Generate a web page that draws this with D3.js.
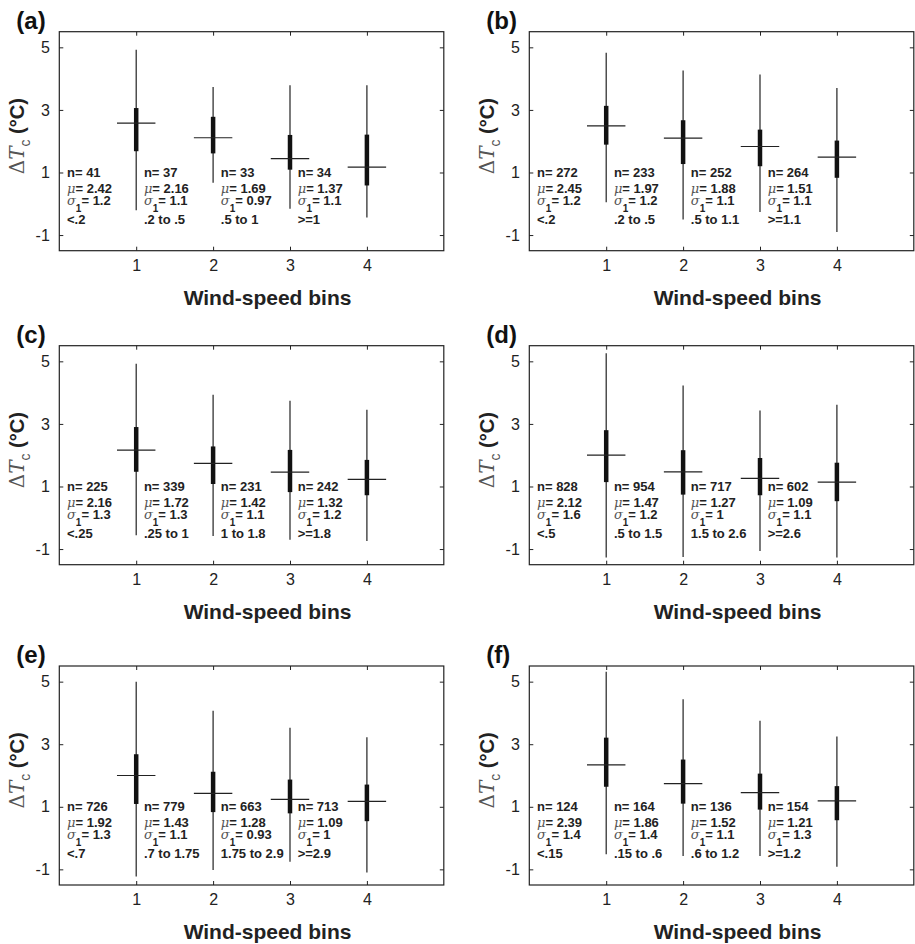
<!DOCTYPE html>
<html lang="en">
<head>
<meta charset="utf-8">
<title>Wind-speed bins</title>
<script src="https://cdn.jsdelivr.net/npm/d3@7"></script>
<style>
  body { margin: 0; background: #fff; }
  svg { font-family: "Liberation Sans", Arial, Helvetica, sans-serif; }
  .tick text { font-size: 16px; fill: #222; }
  .tick line { stroke: #222; }
  .frame { fill: none; stroke: #222; stroke-width: 1.2; }
  .panel-id { font-size: 24px; font-weight: bold; fill: #111; }
  .xlabel { font-size: 21px; font-weight: bold; fill: #222; }
  .note { font-size: 13px; font-weight: bold; fill: #222; }
  .math { font-family: "DejaVu Serif", serif; font-style: italic; font-weight: normal; fill: #555; }
</style>
</head>
<body>
<script>
var panelIds = ['(a)', '(b)', '(c)', '(d)', '(e)', '(f)'];
var bins = [1, 2, 3, 4];
var xTicks = [1, 2, 3, 4];
var yTicks = [-1, 1, 3, 5];

var nCounts = [[41, 37, 33, 34], [272, 233, 252, 264], [225, 339, 231, 242],
               [828, 954, 717, 602], [726, 779, 663, 713], [124, 164, 136, 154]];
var muText = [['2.42', '2.16', '1.69', '1.37'], ['2.45', '1.97', '1.88', '1.51'],
              ['2.16', '1.72', '1.42', '1.32'], ['2.12', '1.47', '1.27', '1.09'],
              ['1.92', '1.43', '1.28', '1.09'], ['2.39', '1.86', '1.52', '1.21']];
var sigmaText = [['1.2', '1.1', '0.97', '1.1'], ['1.2', '1.2', '1.1', '1.1'],
                 ['1.3', '1.3', '1.1', '1.2'], ['1.6', '1.2', '1', '1.1'],
                 ['1.3', '1.1', '0.93', '1'], ['1.4', '1.4', '1.1', '1.3']];
var rangeText = [['<.2', '.2 to .5', '.5 to 1', '>=1'], ['<.2', '.2 to .5', '.5 to 1.1', '>=1.1'],
                 ['<.25', '.25 to 1', '1 to 1.8', '>=1.8'], ['<.5', '.5 to 1.5', '1.5 to 2.6', '>=2.6'],
                 ['<.7', '.7 to 1.75', '1.75 to 2.9', '>=2.9'], ['<.15', '.15 to .6', '.6 to 1.2', '>=1.2']];

var whiskerHigh = [[4.92, 3.73, 3.79, 3.79], [4.83, 4.26, 4.13, 3.70], [4.92, 3.93, 3.74, 3.45],
                   [5.26, 4.23, 3.43, 3.61], [5.00, 4.07, 3.53, 3.22], [5.32, 4.44, 3.75, 3.25]];
var whiskerLow = [[-0.21, 0.67, -0.16, -0.44], [0.05, -0.50, -0.26, -0.90], [-0.56, -0.58, -0.70, -0.74],
                  [-1.27, -1.25, -1.06, -1.27], [-1.23, -1.02, -0.76, -1.10], [-0.52, -0.57, -0.57, -0.92]];
var boxHigh = [[3.06, 2.78, 2.20, 2.21], [3.13, 2.67, 2.37, 2.02], [2.90, 2.28, 2.17, 1.85],
               [2.80, 2.16, 1.91, 1.76], [2.68, 2.12, 1.87, 1.71], [3.21, 2.51, 2.06, 1.66]];
var boxLow = [[1.68, 1.61, 1.09, 0.585], [1.89, 1.27, 1.20, 0.83], [1.47, 1.08, 0.82, 0.72],
              [1.14, 0.74, 0.72, 0.53], [1.09, 0.83, 0.79, 0.54], [1.64, 1.10, 0.91, 0.57]];
var medians = [[2.58, 2.11, 1.44, 1.17], [2.49, 2.10, 1.83, 1.49], [2.16, 1.74, 1.46, 1.23],
               [2.00, 1.47, 1.26, 1.14], [2.00, 1.43, 1.24, 1.17], [2.34, 1.74, 1.45, 1.19]];

var width = 915, height = 944;
var colLeft = [59.3, 529.3];
var rowTop = [31.7, 345.7, 666];
var plotW = 384.5, plotH = 219;

var svg = d3.select('body').append('svg')
  .attr('width', width)
  .attr('height', height);

var x = d3.scaleLinear().domain([0, 5]).range([0, plotW]);
var y = d3.scaleLinear().domain([-1.5, 5.5]).range([plotH, 0]);

panelIds.forEach(function(id, p) {
  var left = colLeft[p % 2], top = rowTop[Math.floor(p / 2)];
  var g = svg.append('g').attr('transform', 'translate(' + left + ',' + top + ')');

  // axes, ticks pointing inward on all four sides
  g.append('g').attr('transform', 'translate(0,' + plotH + ')')
    .call(d3.axisBottom(x).tickValues(xTicks).tickSize(-4).tickPadding(9).tickFormat(String));
  g.append('g')
    .call(d3.axisTop(x).tickValues(xTicks).tickSize(-4).tickFormat(''));
  g.append('g')
    .call(d3.axisLeft(y).tickValues(yTicks).tickSize(-4).tickPadding(9.5).tickFormat(String));
  g.append('g').attr('transform', 'translate(' + plotW + ',0)')
    .call(d3.axisRight(y).tickValues(yTicks).tickSize(-4).tickFormat(''));
  g.selectAll('.domain').remove();
  g.selectAll('.tick text').attr('font-family', null).attr('font-size', null);

  g.append('rect').attr('class', 'frame')
    .attr('x', 0).attr('y', 0).attr('width', plotW).attr('height', plotH);

  var stats = bins.map(function(b, i) {
    return { bin: b, lo: whiskerLow[p][i], hi: whiskerHigh[p][i],
             q1: boxLow[p][i], q3: boxHigh[p][i], med: medians[p][i] };
  });

  g.selectAll('.whisker').data(stats).enter().append('line')
    .attr('class', 'whisker')
    .attr('x1', function(d) { return x(d.bin); })
    .attr('x2', function(d) { return x(d.bin); })
    .attr('y1', function(d) { return y(d.lo); })
    .attr('y2', function(d) { return y(d.hi); })
    .style('stroke', '#222').style('stroke-width', 1.2);

  g.selectAll('.iqr').data(stats).enter().append('line')
    .attr('class', 'iqr')
    .attr('x1', function(d) { return x(d.bin); })
    .attr('x2', function(d) { return x(d.bin); })
    .attr('y1', function(d) { return y(d.q1); })
    .attr('y2', function(d) { return y(d.q3); })
    .style('stroke', '#111').style('stroke-width', 4.5);

  g.selectAll('.med').data(stats).enter().append('line')
    .attr('class', 'med')
    .attr('x1', function(d) { return x(d.bin - 0.25); })
    .attr('x2', function(d) { return x(d.bin + 0.25); })
    .attr('y1', function(d) { return y(d.med); })
    .attr('y2', function(d) { return y(d.med); })
    .style('stroke', '#222').style('stroke-width', 1.2);

  // text block left of each bin
  bins.forEach(function(b, i) {
    var tx = x(b - 1 + 0.1), ty = y(0.85);
    var t = g.append('g').attr('class', 'note').attr('transform', 'translate(' + tx + ',' + ty + ')');
    t.append('text').attr('y', 0).text('n= ' + nCounts[p][i]);
    var mu = t.append('text').attr('y', 15.6);
    mu.append('tspan').attr('class', 'math').text('\u03bc');
    mu.append('tspan').text('= ' + muText[p][i]);
    var sg = t.append('text').attr('y', 28);
    sg.append('tspan').attr('class', 'math').text('\u03c3');
    sg.append('tspan').attr('dy', 7).style('font-size', '10px').text('1');
    sg.append('tspan').attr('dy', -7).text('= ' + sigmaText[p][i]);
    t.append('text').attr('y', 47).text(rangeText[p][i]);
  });

  svg.append('text').attr('class', 'panel-id')
    .attr('x', left - 43).attr('y', top - 3)
    .text(id);

  svg.append('text').attr('class', 'xlabel')
    .attr('text-anchor', 'middle')
    .attr('x', left + plotW / 2 + 16).attr('y', top + plotH + 54)
    .text('Wind-speed bins');

  var yl = svg.append('text')
    .attr('text-anchor', 'middle')
    .attr('transform', 'translate(' + (left - 35) + ',' + (top + plotH / 2 - 5) + ') rotate(-90)')
    .style('font-size', '20px').style('fill', '#333');
  yl.append('tspan').style('font-family', '"DejaVu Serif", serif').style('fill', '#555').text('\u0394');
  yl.append('tspan').style('font-family', '"DejaVu Serif", serif').style('font-style', 'italic')
    .style('fill', '#555').text('T');
  yl.append('tspan').attr('dy', 6).style('font-size', '14px').style('fill', '#555').text('c');
  yl.append('tspan').attr('dy', -6).style('font-weight', 'bold').style('fill', '#222').text(' (\u00b0C)');
});
</script>
</body>
</html>
